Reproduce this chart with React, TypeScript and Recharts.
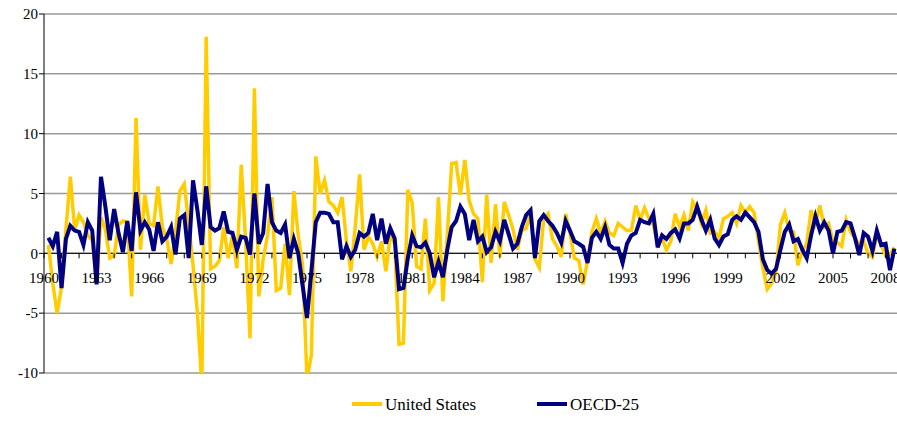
import React from "react";
import { LineChart, Line, XAxis, YAxis, CartesianGrid, ReferenceLine } from "recharts";

// Quarterly growth, 1960Q1 onwards
const US_GROWTH = [
  0.7, -2.5, -5.0, -2.8, 2.0, 6.4, 2.0, 3.2, 2.6, 1.5, 1.1, -2.5,
  3.0, 2.0, -0.4, -0.2, 2.4, 2.7, 2.6, -3.6, 11.3, 0.3, 4.9, 2.5,
  2.3, 5.6, 2.2, 1.2, -0.9, 1.8, 5.2, 5.8, 2.5, -1.0, -5.0, -11.0,
  18.1, -1.3, -1.1, -0.6, 2.2, -0.4, 1.5, -1.25, 7.4, 1.0, -7.1, 13.8,
  -3.6, -0.5, 1.5, 4.7, -3.1, -2.9, 0.8, -3.5, 5.2, 1.5, -1.0, -10.5,
  -8.5, 8.1, 5.0, 6.1, 4.3, 4.0, 3.4, 4.7, 1.0, -1.5, 2.2, 6.6,
  0.3, 1.4, 0.8, -0.3, 1.0, -1.5, 1.5, 0.8, -7.6, -7.5, 5.3, 4.2,
  -1.1, -1.3, 2.9, -3.1, -2.5, 4.7, -4.0, 1.5, 7.5, 7.6, 4.9, 7.8,
  4.4, 3.3, 2.9, -2.4, 4.9, -0.8, 4.1, -0.3, 4.3, 3.2, 2.0, 0.3,
  1.9, 2.1, 3.3, -0.5, -1.2, 2.9, 3.3, 1.2, 0.6, -0.3, 3.3, 1.7,
  -0.4, -0.6, -2.6, -0.6, 1.8, 2.9, 1.7, 2.7, 1.7, 1.5, 2.5, 2.2,
  1.9, 1.9, 4.0, 2.8, 3.8, 2.9, 2.4, 0.7, 1.25, 0.3, 1.0, 3.3,
  2.2, 3.2, 1.9, 4.3, 3.7, 2.5, 3.6, 1.7, 1.8, 1.3, 2.9, 3.1,
  3.4, 2.5, 4.0, 3.4, 3.9, 3.4, 1.0, -1.2, -3.0, -2.5, -1.6, 2.4,
  3.4, 1.9, 1.8, -1.0, 0.2, 0.8, 3.6, 2.5, 4.0, 2.2, 2.5, 1.0,
  0.9, 0.6, 2.8, 1.8, 1.3, 0.8, 1.0, 0.0, -0.3, 1.6, 0.7, -0.2,
  -0.1, 0.5,
];

const OECD_GROWTH = [
  1.3, 0.6, 1.8, -2.9, 1.2, 2.3, 1.9, 1.8, 0.7, 2.6, 1.9, -2.6,
  6.4, 3.9, 1.1, 3.7, 1.7, 0.1, 2.7, 0.2, 5.1, 1.9, 2.6, 2.0,
  0.2, 2.6, 1.0, 1.4, 2.2, -0.1, 2.9, 3.2, -0.4, 6.1, 3.6, 0.7,
  5.6, 2.2, 1.9, 2.1, 3.5, 1.8, 1.7, 0.3, 1.4, 1.3, -0.1, 5.0,
  0.8, 1.7, 5.8, 2.6, 1.9, 1.7, 2.4, -0.4, 1.2, 0.0, -2.7, -5.4,
  -1.5, 2.6, 3.4, 3.4, 3.3, 2.6, 2.6, -0.5, 0.6, -0.3, 0.3, 1.7,
  1.4, 1.7, 3.3, 1.1, 2.9, 0.8, 2.1, 1.25, -3.0, -2.9, -0.4, 1.5,
  0.6, 0.5, 0.9, 0.0, -2.0, -0.7, -2.0, 0.3, 2.2, 2.7, 3.9, 3.3,
  1.1, 2.8, 1.0, 1.4, 0.1, 0.5, 1.8, 1.0, 2.8, 1.6, 0.4, 0.8,
  2.2, 3.2, 3.6, -0.4, 2.7, 3.2, 2.7, 2.3, 1.7, 0.9, 2.7, 1.9,
  1.0, 0.8, 0.55, -0.8, 1.3, 1.8, 1.2, 2.2, 0.7, 0.4, 0.4, -0.8,
  0.8, 1.5, 1.7, 2.8, 2.6, 2.5, 3.3, 0.5, 1.5, 1.2, 1.7, 2.0,
  1.25, 2.5, 2.5, 2.8, 3.9, 2.8, 1.9, 2.8, 1.25, 0.7, 1.4, 1.6,
  2.8, 3.1, 2.8, 3.4, 3.0, 2.6, 1.8, -0.5, -1.4, -1.7, -1.3, 0.3,
  1.8, 2.4, 1.0, 1.2, 0.3, -0.4, 1.5, 3.1, 1.9, 2.6, 1.9, 0.0,
  1.8, 1.9, 2.6, 2.5, 1.3, -0.15, 1.7, 1.4, 0.2, 1.9, 0.7, 0.8,
  -1.4, 0.4,
];

const START_YEAR = 1960;
const TICK_YEARS = Array.from({ length: 49 }, (_, i) => START_YEAR + i);
const LABEL_YEARS = [1960, 1963, 1966, 1969, 1972, 1975, 1978, 1981, 1984, 1987, 1990, 1993, 1996, 1999, 2002, 2005, 2008];
const Y_TICKS = [-10, -5, 0, 5, 10, 15, 20];

const rows = US_GROWTH.map((us, i) => ({
  quarter: `${START_YEAR + Math.floor(i / 4)}Q${(i % 4) + 1}`,
  t: START_YEAR + (i + 1) / 4,
  us,
  oecd: OECD_GROWTH[i],
}));

const FONT = "'Liberation Serif', 'DejaVu Serif', serif";
const W = 897;
const H = 380;
const TOP = 14;
const X_AXIS_H = 7;
const Y_MIN = -10;
const Y_MAX = 20;
const ZERO_Y = TOP + ((H - TOP - X_AXIS_H) * Y_MAX) / (Y_MAX - Y_MIN);

function YearTick(props: any) {
  const { x, payload } = props;
  const year = payload.value;
  return (
    <g>
      <line x1={x} x2={x} y1={ZERO_Y} y2={ZERO_Y + 5} stroke="#000" strokeWidth={1} />
      {LABEL_YEARS.includes(year) && (
        <text x={x} y={ZERO_Y + 30} textAnchor="middle" fill="#000" style={{ fontFamily: FONT, fontSize: 15 }}>
          {year}
        </text>
      )}
    </g>
  );
}

function ValueTick(props: any) {
  const { x, y, payload } = props;
  return (
    <text x={x} y={y} dy="0.35em" textAnchor="end" fill="#000" style={{ fontFamily: FONT, fontSize: 15 }}>
      {payload.value}
    </text>
  );
}

export default function App() {
  return (
    <div style={{ position: "absolute", left: 0, top: 0, width: W, height: 422, overflow: "hidden", background: "#fff", fontFamily: FONT }}>
      <LineChart width={W} height={H} data={rows} margin={{ top: TOP, right: 0, bottom: 0, left: 0 }}>
        <CartesianGrid horizontal vertical={false} stroke="#999" strokeWidth={1.5} />
        <XAxis
          type="number"
          dataKey="t"
          domain={[START_YEAR, 2008.65]}
          allowDataOverflow
          ticks={TICK_YEARS}
          interval={0}
          tick={(p: any) => <YearTick {...p} />}
          tickLine={false}
          axisLine={false}
          height={X_AXIS_H}
        />
        <YAxis
          domain={[Y_MIN, Y_MAX]}
          ticks={Y_TICKS}
          allowDataOverflow
          width={44}
          interval={0}
          axisLine={{ stroke: "#000", strokeWidth: 1 }}
          tickLine={{ stroke: "#000", strokeWidth: 1 }}
          tickSize={5}
          tickMargin={1}
          tick={(p: any) => <ValueTick {...p} />}
        />
        <ReferenceLine y={0} stroke="#000" strokeWidth={1} />
        <Line type="linear" dataKey="us" stroke="#FFCC00" strokeWidth={3.5} dot={false} isAnimationActive={false} />
        <Line type="linear" dataKey="oecd" stroke="#000080" strokeWidth={4} dot={false} isAnimationActive={false} />
      </LineChart>
      <svg width={W} height={42} style={{ position: "absolute", left: 0, top: H }}>
        <line x1={352} x2={382} y1={24} y2={24} stroke="#FFCC00" strokeWidth={4} />
        <text x={385} y={30} fill="#000" style={{ fontFamily: FONT, fontSize: 17 }}>United States</text>
        <line x1={537} x2={567} y1={24} y2={24} stroke="#000080" strokeWidth={4} />
        <text x={570} y={30} fill="#000" style={{ fontFamily: FONT, fontSize: 17 }}>OECD-25</text>
      </svg>
    </div>
  );
}
